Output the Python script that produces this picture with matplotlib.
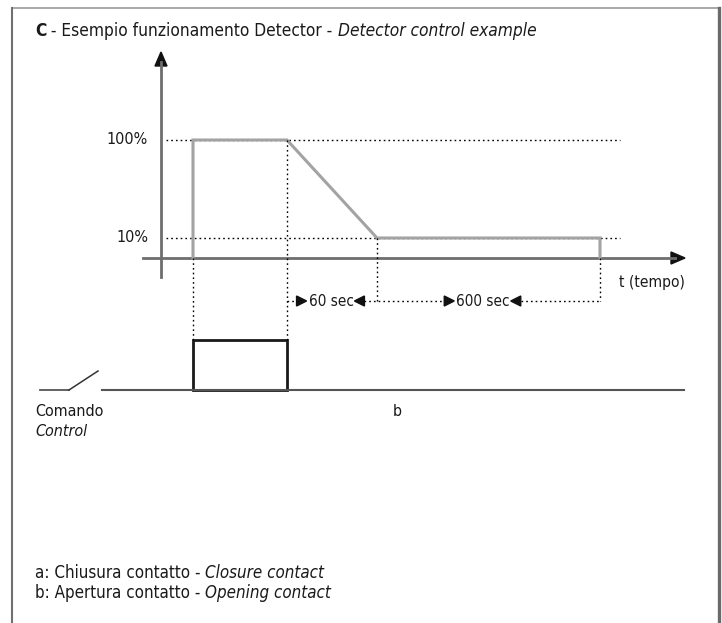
import matplotlib
matplotlib.use("Agg")
import numpy as np
import matplotlib.pyplot as plt
from matplotlib.offsetbox import TextArea, HPacker, AnnotationBbox
from matplotlib.patches import Polygon, Rectangle

# ---------------- data ----------------
title_runs = [("C", "bold", "normal"),
              (" - Esempio funzionamento Detector - ", "normal", "normal"),
              ("Detector control example", "normal", "italic")]
level_ticks = [100, 10]                      # percent levels shown on the axis
level_labels = ["100%", "10%"]
# signal: time positions (px along time axis) and percent levels
sig_t = [193, 193, 287, 377, 600, 600]
sig_lvl = [0, 100, 100, 10, 10, 0]
# durations annotated
dur_labels = ["60 sec", "600 sec"]
dur_bounds = [(287, 377), (377, 600)]
# control command pulse (closure from t_on to t_off)
cmd_on, cmd_off = 193, 287
axis_label = "t (tempo)"
cmd_label = ["Comando", "Control"]
notes = [("a: Chiusura contatto - ", "Closure contact"),
         ("b: Apertura contatto - ", "Opening contact")]

# ---------------- layout ----------------
W, H = 722, 623
FONT = ["DejaVu Sans"]
plt.rcParams["font.family"] = FONT
plt.rcParams["font.stretch"] = "condensed"

fig = plt.figure(figsize=(W / 100, H / 100), dpi=100)
ax = fig.add_axes([0, 0, 1, 1])
ax.set_xlim(0, W)
ax.set_ylim(H, 0)
ax.axis("off")

# percent -> vertical pixel (schematic, piecewise scale)
y0, y10, y100 = 258, 238, 140
def ypos(p):
    return np.interp(p, [0, 10, 100], [y0, y10, y100])

TXT = "#1a1a1a"
# frame
ax.plot([12, 719], [8, 8], color="#9a9a9a", lw=1.2)
ax.plot([12, 12], [8, H], color="#707070", lw=1.5)
ax.plot([719, 719], [8, H], color="#6a6a6a", lw=2.4)

# title
runs = [TextArea(s, textprops=dict(fontsize=12.4, fontweight=w, fontstyle=st,
                                   color=TXT, family=FONT, stretch="condensed"))
        for s, w, st in title_runs]
pack = HPacker(children=runs, pad=0, sep=0, align="baseline")
ab = AnnotationBbox(pack, (35, 31), xycoords="data", box_alignment=(0, 0.5),
                    frameon=False, pad=0)
ax.add_artist(ab)

dot = dict(color="black", lw=1.0, linestyle=(0, (1.2, 2.2)))

# axes of the signal plot
ax_x0 = 161
ax.plot([ax_x0, ax_x0], [277, 62], color="#6e6e6e", lw=2)
ax.add_patch(Polygon([[ax_x0, 52], [ax_x0 - 6, 66], [ax_x0 + 6, 66]],
                     closed=True, color="#111111"))
ax.plot([143, 675], [y0, y0], color="#6e6e6e", lw=2)
ax.add_patch(Polygon([[685, y0], [671, y0 - 6], [671, y0 + 6]],
                     closed=True, color="#111111"))

# level reference lines and labels
for p, lab in zip(level_ticks, level_labels):
    ax.plot([166, 620], [ypos(p), ypos(p)], **dot)
    ax.text(148, ypos(p), lab, ha="right", va="center", fontsize=11.5,
            color=TXT)

# signal
ax.plot(sig_t, ypos(np.array(sig_lvl)), color="#a3a3a3", lw=2.2,
        solid_joinstyle="miter")

# projection lines
row_y = 301
rect_top, rect_bot = 340, 390
ax.plot([cmd_on, cmd_on], [y0, rect_top], **dot)
ax.plot([cmd_off, cmd_off], [ypos(100), rect_top], **dot)
ax.plot([sig_t[3], sig_t[3]], [ypos(10), row_y], **dot)
ax.plot([sig_t[4], sig_t[4]], [y0, row_y], **dot)

# duration annotations (label centres inside each interval)
lab_cx = [331, 483]
for cx, lab in zip(lab_cx, dur_labels):
    ax.text(cx, row_y, lab, ha="center", va="center", fontsize=11,
            color=TXT)
fig.canvas.draw()
r = fig.canvas.get_renderer()
inv = ax.transData.inverted()
texts = ax.texts[-2:]
x_cur = dur_bounds[0][0]
for t in texts:
    bb = t.get_window_extent(r)
    xl = inv.transform((bb.x0, 0))[0]
    xr = inv.transform((bb.x1, 0))[0]
    ax.plot([x_cur, xl - 12], [row_y, row_y], **dot)
    ax.add_patch(Polygon([[xl - 2, row_y], [xl - 12, row_y - 5], [xl - 12, row_y + 5]],
                         closed=True, color="#111111"))
    ax.add_patch(Polygon([[xr + 1, row_y], [xr + 11, row_y - 5], [xr + 11, row_y + 5]],
                         closed=True, color="#111111"))
    x_cur = xr + 11
ax.plot([x_cur, dur_bounds[-1][1]], [row_y, row_y], **dot)

ax.text(619, 282, axis_label, ha="left", va="center", fontsize=11.2,
        color=TXT)

# command line (switch + contact)
ax.plot([40, 69], [rect_bot, rect_bot], color="#555555", lw=1.3)
ax.plot([69, 98], [rect_bot, 371], color="#333333", lw=1.1)
ax.plot([102, 684], [rect_bot, rect_bot], color="#555555", lw=1.5)
ax.add_patch(Rectangle((cmd_on, rect_top), cmd_off - cmd_on, rect_bot - rect_top,
                       fill=False, edgecolor=TXT, lw=2))

ax.text(35, 412, cmd_label[0], ha="left", va="center", fontsize=11.5,
        color=TXT)
ax.text(35, 432, cmd_label[1], ha="left", va="center", fontsize=11.5,
        color=TXT, fontstyle="italic")
ax.text(393, 412, "b", ha="left", va="center", fontsize=11.5, color=TXT)

# notes
for i, (n, it) in enumerate(notes):
    ta = [TextArea(n, textprops=dict(fontsize=12.2, color=TXT, family=FONT,
                                     stretch="condensed")),
          TextArea(it, textprops=dict(fontsize=12.2, color=TXT, family=FONT,
                                      fontstyle="italic", stretch="condensed"))]
    hp = HPacker(children=ta, pad=0, sep=0, align="baseline")
    ax.add_artist(AnnotationBbox(hp, (35, 573 + 19.5 * i), xycoords="data",
                                 box_alignment=(0, 0.5), frameon=False, pad=0))

fig.savefig("out.png", dpi=100)
